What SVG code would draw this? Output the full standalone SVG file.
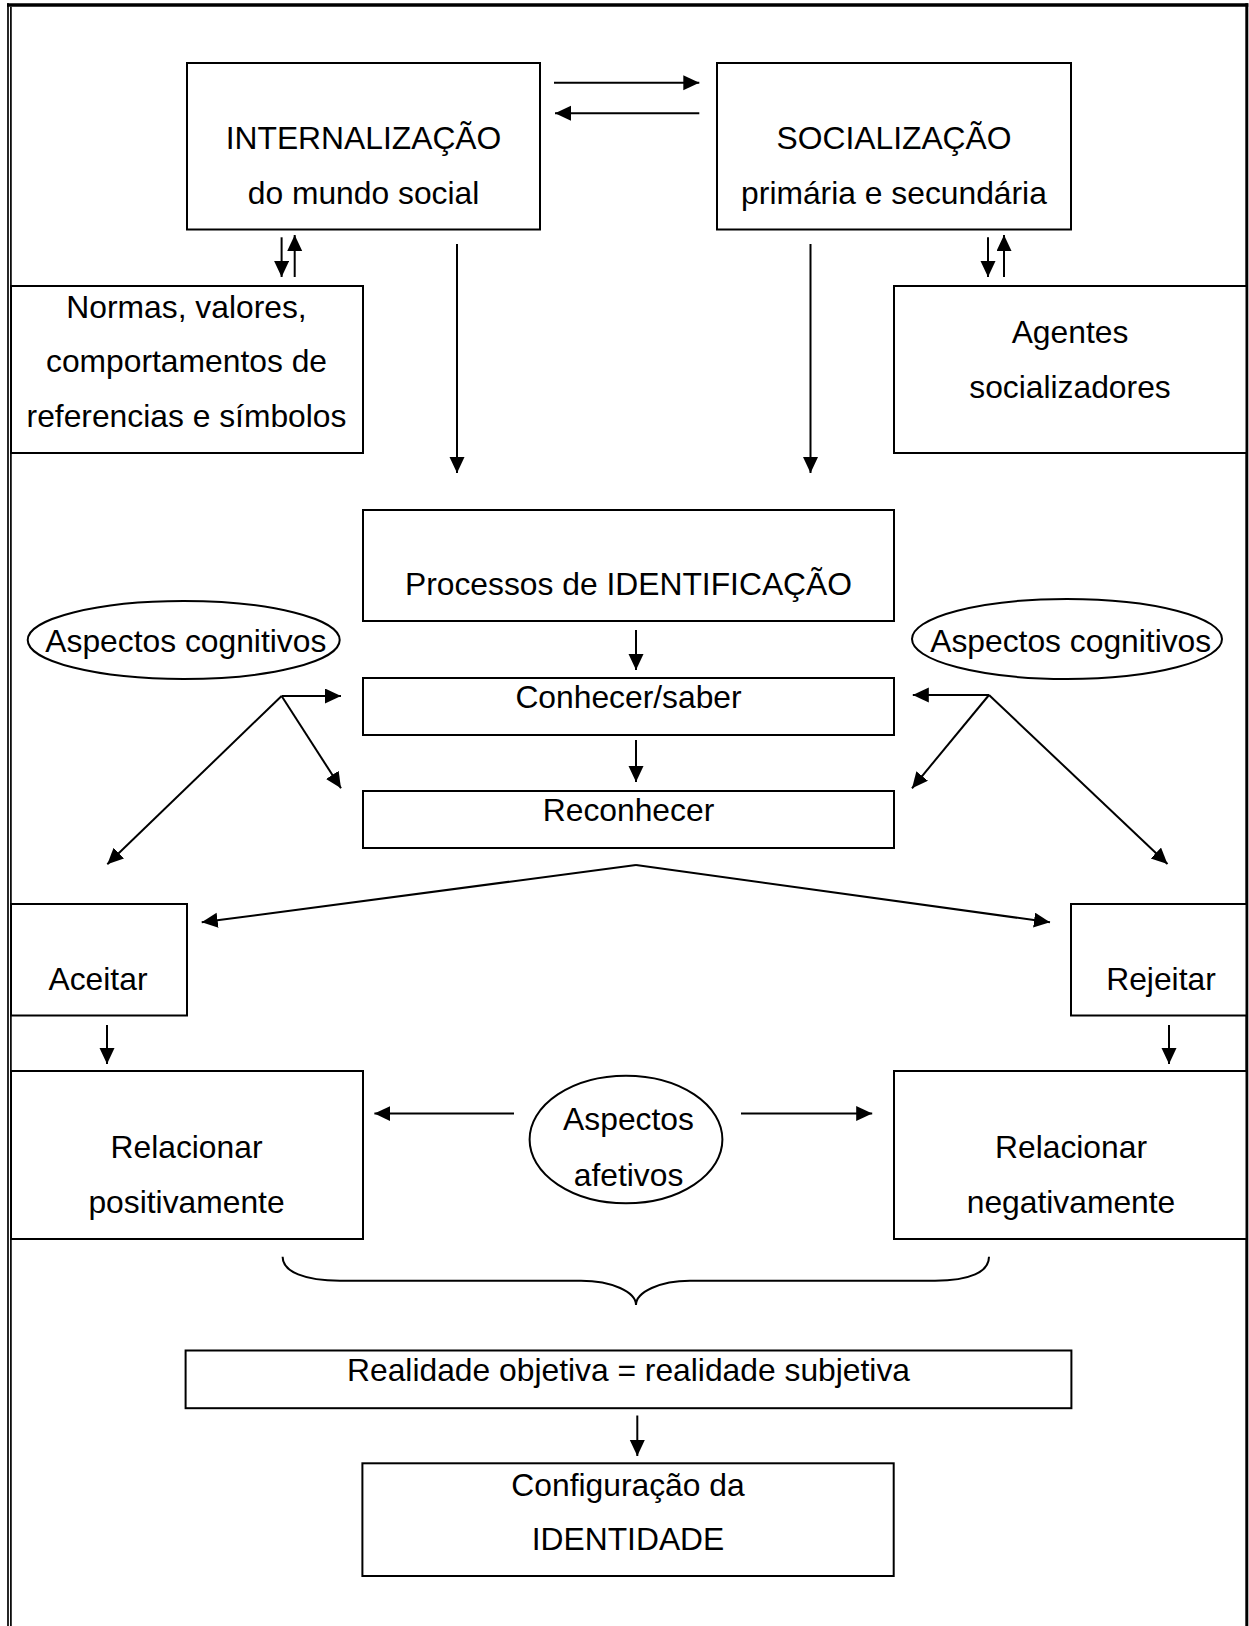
<svg xmlns="http://www.w3.org/2000/svg" width="1249" height="1626" viewBox="0 0 1249 1626">
<style>
.box{fill:#fff;stroke:#000;stroke-width:2}
.ell{fill:#fff;stroke:#000;stroke-width:2}
.t{font-family:"Liberation Sans",Arial,sans-serif;font-size:31.8px;fill:#000;text-anchor:middle}
.c{fill:none;stroke:#000;stroke-width:2}
.a{marker-end:url(#ah)}
</style>
<defs>
<marker id="ah" markerUnits="userSpaceOnUse" markerWidth="17" markerHeight="16" refX="16" refY="7.5" orient="auto">
<path d="M0,0 L16,7.5 L0,15 z" fill="#000"/>
</marker>
</defs>
<rect width="1249" height="1626" fill="#fff"/>
<g id="frame">
<line x1="7" y1="5" x2="1248.3" y2="5" stroke="#000" stroke-width="3.5"/>
<line x1="8" y1="3.3" x2="8" y2="1626" stroke="#000" stroke-width="1.7"/>
<line x1="10.9" y1="6.7" x2="10.9" y2="1626" stroke="#000" stroke-width="1.7"/>
<line x1="1246.8" y1="3.3" x2="1246.8" y2="1626" stroke="#000" stroke-width="3"/>
</g>
<g id="internalizacao">
<rect class="box" x="187" y="63" width="353" height="166.5"/>
<text class="t" x="363.5" y="148.5">INTERNALIZAÇÃO</text>
<text class="t" x="363.5" y="203.5">do mundo social</text>
</g>
<g id="socializacao">
<rect class="box" x="717" y="63" width="354" height="166.5"/>
<text class="t" x="894" y="148.5">SOCIALIZAÇÃO</text>
<text class="t" x="894" y="203.5">primária e secundária</text>
</g>
<g id="normas">
<rect class="box" x="11" y="286" width="352" height="167"/>
<text class="t" x="186.5" y="318">Normas, valores,</text>
<text class="t" x="186.5" y="372">comportamentos de</text>
<text class="t" x="186.5" y="426.5">referencias e símbolos</text>
</g>
<g id="agentes">
<rect class="box" x="894" y="286" width="352.5" height="167"/>
<text class="t" x="1070" y="343">Agentes</text>
<text class="t" x="1070" y="398">socializadores</text>
</g>
<g id="processos">
<rect class="box" x="363" y="510" width="531" height="111"/>
<text class="t" x="628.5" y="595">Processos de IDENTIFICAÇÃO</text>
</g>
<g id="cognitivos-esq">
<ellipse class="ell" cx="183.7" cy="640" rx="156" ry="39"/>
<text class="t" x="185.8" y="651.7">Aspectos cognitivos</text>
</g>
<g id="cognitivos-dir">
<ellipse class="ell" cx="1067" cy="639" rx="155" ry="40"/>
<text class="t" x="1070.7" y="651.7">Aspectos cognitivos</text>
</g>
<g id="conhecer">
<rect class="box" x="363" y="678" width="531" height="57"/>
<text class="t" x="628.5" y="708">Conhecer/saber</text>
</g>
<g id="reconhecer">
<rect class="box" x="363" y="791" width="531" height="57"/>
<text class="t" x="628.5" y="821">Reconhecer</text>
</g>
<g id="aceitar">
<rect class="box" x="11" y="904" width="176" height="111.5"/>
<text class="t" x="98" y="990">Aceitar</text>
</g>
<g id="rejeitar">
<rect class="box" x="1071" y="904" width="175.5" height="111.5"/>
<text class="t" x="1161" y="990">Rejeitar</text>
</g>
<g id="relacionar-pos">
<rect class="box" x="11" y="1071" width="352" height="168"/>
<text class="t" x="186.5" y="1158">Relacionar</text>
<text class="t" x="186.5" y="1212.5">positivamente</text>
</g>
<g id="afetivos">
<ellipse class="ell" cx="626" cy="1139.5" rx="96.4" ry="63.7"/>
<text class="t" x="628.5" y="1130">Aspectos</text>
<text class="t" x="628.5" y="1186">afetivos</text>
</g>
<g id="relacionar-neg">
<rect class="box" x="894" y="1071" width="352.5" height="168"/>
<text class="t" x="1071" y="1158">Relacionar</text>
<text class="t" x="1071" y="1212.5">negativamente</text>
</g>
<g id="realidade">
<rect class="box" x="185.6" y="1350.5" width="885.8" height="57.7"/>
<text class="t" x="628.5" y="1381">Realidade objetiva = realidade subjetiva</text>
</g>
<g id="configuracao">
<rect class="box" x="362.4" y="1463.3" width="531.3" height="112.7"/>
<text class="t" x="628" y="1495.5">Configuração da</text>
<text class="t" x="628" y="1550">IDENTIDADE</text>
</g>
<g id="connectors">
<line class="c a" x1="554" y1="82.7" x2="699.3" y2="82.7"/>
<line class="c a" x1="699.3" y1="113.3" x2="555" y2="113.3"/>
<line class="c a" x1="281.6" y1="237.3" x2="281.6" y2="277"/>
<line class="c a" x1="294.7" y1="277" x2="294.7" y2="235"/>
<line class="c a" x1="988" y1="237.3" x2="988" y2="277"/>
<line class="c a" x1="1004" y1="277" x2="1004" y2="235"/>
<line class="c a" x1="457" y1="244" x2="457" y2="473"/>
<line class="c a" x1="810.5" y1="244" x2="810.5" y2="473"/>
<line class="c a" x1="636" y1="630" x2="636" y2="670"/>
<line class="c a" x1="636" y1="740" x2="636" y2="782"/>
<line class="c a" x1="281.6" y1="696" x2="341" y2="696"/>
<line class="c a" x1="281.6" y1="696" x2="341" y2="788.3"/>
<line class="c a" x1="281.6" y1="696" x2="107.3" y2="864.3"/>
<line class="c a" x1="989" y1="695" x2="912.8" y2="695"/>
<line class="c a" x1="989" y1="695" x2="912" y2="788.3"/>
<line class="c a" x1="989" y1="695" x2="1167.5" y2="864"/>
<line class="c a" x1="636" y1="865" x2="201.7" y2="922.3"/>
<line class="c a" x1="636" y1="865" x2="1050" y2="922.3"/>
<line class="c a" x1="107" y1="1025" x2="107" y2="1064"/>
<line class="c a" x1="1169" y1="1025" x2="1169" y2="1064"/>
<line class="c a" x1="514" y1="1113.6" x2="374.4" y2="1113.6"/>
<line class="c a" x1="741" y1="1113.6" x2="872.2" y2="1113.6"/>
<path class="c" d="M282.6,1256.7 C282.6,1272 305,1280.7 340,1280.7 L581,1280.7 C612,1280.7 636,1292 636,1305 C636,1292 660,1280.7 690,1280.7 L935,1280.7 C970,1280.7 989,1272 989,1256.7"/>
<line class="c a" x1="637.3" y1="1415.5" x2="637.3" y2="1456"/>
</g>
</svg>
